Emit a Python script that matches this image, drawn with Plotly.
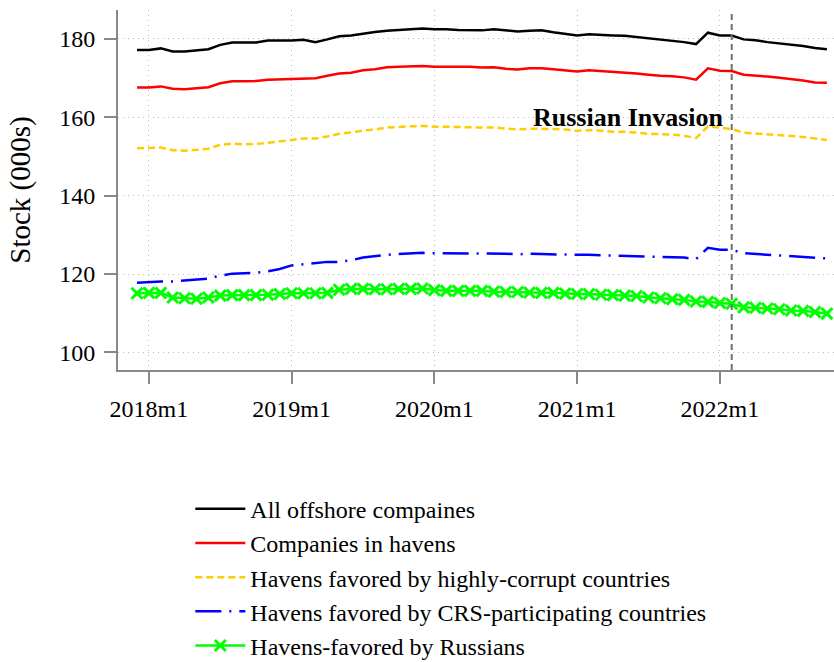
import plotly.graph_objects as go

# Months 2017m12 .. 2022m10
months = ["2017m12"] + [f"{y}m{m}" for y in range(2018, 2023) for m in range(1, 13)]
months = months[:59]

all_offshore = [177.2,177.2,177.6,176.8,176.8,177.1,177.4,178.5,179.1,179.1,179.1,179.6,179.6,179.6,179.8,179.2,179.9,180.7,180.9,181.4,181.8,182.1,182.3,182.4,182.7,182.5,182.5,182.3,182.3,182.2,182.5,182.2,181.9,182.1,182.2,181.7,181.3,180.9,181.2,181.0,180.9,180.8,180.5,180.2,179.8,179.6,179.2,178.7,181.6,180.9,180.9,179.9,179.7,179.2,178.9,178.6,178.2,177.7,177.4]
in_havens = [167.6,167.6,167.9,167.3,167.2,167.5,167.7,168.7,169.2,169.2,169.3,169.6,169.7,169.8,169.9,170.0,170.6,171.2,171.4,172.0,172.3,172.8,172.9,173.0,173.1,172.9,172.9,172.8,172.9,172.7,172.8,172.4,172.2,172.5,172.5,172.3,172.0,171.7,172.0,171.8,171.6,171.5,171.2,170.9,170.6,170.5,170.2,169.6,172.5,171.9,171.8,170.9,170.7,170.4,170.1,169.8,169.4,168.9,168.8]
corrupt = [152.1,152.2,152.3,151.6,151.5,151.7,152.0,153.0,153.3,153.1,153.2,153.5,153.9,154.3,154.6,154.6,155.1,155.8,156.1,156.6,156.9,157.4,157.6,157.7,157.8,157.6,157.6,157.5,157.5,157.4,157.4,157.1,156.9,157.1,157.1,157.0,156.9,156.6,156.7,156.6,156.3,156.3,156.1,155.8,155.7,155.6,155.3,154.7,157.7,157.3,157.0,156.1,155.9,155.7,155.5,155.3,155.0,154.6,154.2]
crs = [117.8,118.0,118.1,118.1,118.3,118.6,118.8,119.6,120.1,120.2,120.3,120.7,121.3,122.2,122.5,122.7,123.1,123.1,123.5,124.2,124.6,124.9,125.1,125.2,125.4,125.3,125.3,125.3,125.3,125.2,125.3,125.2,125.0,125.2,125.1,125.0,124.9,124.9,124.9,124.8,124.7,124.7,124.6,124.5,124.4,124.3,124.2,123.8,126.7,126.2,126.2,125.3,125.1,124.9,124.8,124.6,124.4,124.2,124.0]
russians = [115.1,115.2,115.2,114.0,113.8,113.7,114.0,114.5,114.6,114.6,114.6,114.7,114.9,115.1,115.1,115.1,115.2,116.0,116.2,116.2,116.1,116.1,116.2,116.2,116.3,115.9,115.7,115.7,115.7,115.7,115.5,115.4,115.4,115.3,115.2,115.2,115.0,114.9,114.9,114.7,114.6,114.5,114.4,114.0,113.8,113.6,113.4,113.0,112.9,112.6,112.4,111.5,111.4,111.2,111.0,110.7,110.6,110.3,109.9]

tick_labels = ["2018m1", "2019m1", "2020m1", "2021m1", "2022m1"]
y_ticks = [100, 120, 140, 160, 180]
invasion_month = "2022m2"
invasion_label = "Russian Invasion"

# numeric month index, 2018m1 = 0
def midx(lbl):
    y, m = lbl.split("m")
    return (int(y) - 2018) * 12 + int(m) - 1

x = [midx(m) for m in months]

FONT = "Liberation Serif"
fig = go.Figure()

series = [
    ("All offshore compaines", all_offshore, dict(color="black", width=2.5), None),
    ("Companies in havens", in_havens, dict(color="#ff0000", width=2.5), None),
    ("Havens favored by highly-corrupt countries", corrupt, dict(color="#ffcc00", width=2.5, dash="7px,4px"), None),
    ("Havens favored by CRS-participating countries", crs, dict(color="#0000ff", width=2.5, dash="26px,8px,2px,8px"), None),
    ("Havens-favored by Russians", russians, dict(color="#00ff00", width=2.5),
     dict(symbol="x-thin", size=11, line=dict(color="#00ff00", width=3))),
]
for i, (name, vals, line, marker) in enumerate(series):
    fig.add_trace(go.Scatter(
        x=x, y=vals, name=name, mode="lines+markers" if marker else "lines",
        line=line, marker=marker,
    ))

fig.add_vline(x=midx(invasion_month), line=dict(color="#707070", width=2, dash="6px,4px"))
fig.add_annotation(x=midx(invasion_month), y=160, xref="x", yref="y",
                   text=f"<b>{invasion_label}</b>", showarrow=False,
                   xanchor="right", yanchor="middle", xshift=-6,
                   font=dict(family=FONT, size=26, color="black"))

fig.update_layout(
    width=834, height=662,
    margin=dict(l=118, r=0, t=10, b=292, autoexpand=False),
    paper_bgcolor="white", plot_bgcolor="white",
    font=dict(family=FONT, size=24, color="black"),
    showlegend=True,
    legend=dict(orientation="v", x=0.101, xanchor="left", y=-0.324, yanchor="top",
                font=dict(family=FONT, size=24, color="black"),
                itemwidth=50, bgcolor="rgba(0,0,0,0)"),
)
fig.update_xaxes(
    range=[-2.6, 57.6], tickvals=[midx(t) for t in tick_labels], ticktext=tick_labels,
    showline=True, linecolor="#888888", linewidth=2, mirror=False,
    ticks="outside", ticklen=12, tickwidth=2, tickcolor="#888888",
    ticklabelstandoff=4, automargin=False,
    showgrid=True, gridcolor="#bbbbbb", gridwidth=1, griddash="1px,4px",
    zeroline=False, tickfont=dict(family=FONT, size=24),
)
fig.update_yaxes(
    range=[95.5, 187.4], tickvals=y_ticks, automargin=False,
    title=dict(text="Stock (000s)", font=dict(family=FONT, size=29), standoff=20),
    showline=True, linecolor="#888888", linewidth=2,
    ticks="outside", ticklen=12, tickwidth=2, tickcolor="#888888",
    ticklabelstandoff=4,
    showgrid=True, gridcolor="#bbbbbb", gridwidth=1, griddash="1px,4px",
    zeroline=False, tickfont=dict(family=FONT, size=24),
)

fig.write_html("out.html", config={"displayModeBar": False},
               post_script="document.body.style.margin='0';document.body.style.overflow='hidden';")
